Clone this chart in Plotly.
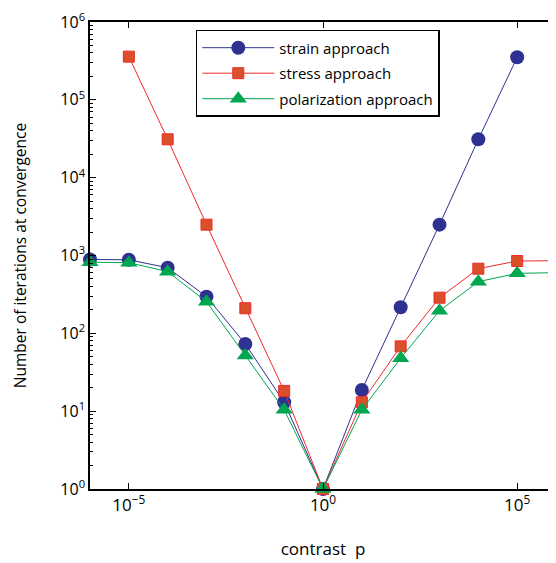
import plotly.graph_objects as go

contrast_exp = [-6, -5, -4, -3, -2, -1, 0, 1, 2, 3, 4, 5, 6]
contrast = [10.0 ** e for e in contrast_exp]

strain = [890, 880, 697, 296, 73, 13, 1, 18.7, 216, 2490, 31100, 352000, None]
stress = [None, 359000, 31100, 2490, 210, 18.2, 1, 13, 68, 287, 677, 850, 857]
polar = [820, 809, 620, 255, 52, 10.4, 1, 10.4, 47.8, 195, 461, 590, 601]

series_names = ["strain approach", "stress approach", "polarization approach"]

x_tickvals = [1e-5, 1, 1e5]
x_ticktext = ["10<sup>−5</sup>", "10<sup>0</sup>", "10<sup>5</sup>"]
y_tickvals = [1, 10, 100, 1e3, 1e4, 1e5, 1e6]
y_ticktext = ["10<sup>%d</sup>" % i for i in range(7)]
y_minor = [m * 10 ** d for d in range(6) for m in range(2, 10)]

FONT = "Open Sans"

fig = go.Figure()
fig.add_trace(go.Scatter(
    x=contrast, y=strain, name=series_names[0], mode="lines+markers",
    legendgroup="a",
    line=dict(color="#2e3192", width=1),
    marker=dict(symbol="circle", size=14, color="#2e3192",
                line=dict(color="#2e3192", width=0)),
    cliponaxis=False, connectgaps=False))
fig.add_trace(go.Scatter(
    x=contrast, y=stress, name=series_names[1], mode="lines+markers",
    legendgroup="b",
    line=dict(color="#ee2a2a", width=1),
    marker=dict(symbol="square", size=11, color="#d9502b",
                line=dict(color="#ee2a2a", width=1)),
    cliponaxis=False, connectgaps=False))
fig.add_trace(go.Scatter(
    x=contrast, y=polar, name=series_names[2], mode="lines+markers",
    legendgroup="c",
    line=dict(color="#00a650", width=1),
    marker=dict(symbol="triangle-up", size=15, color="#00a650",
                line=dict(color="#00a650", width=0)),
    cliponaxis=False, connectgaps=False))

axis_common = dict(
    showline=True, linecolor="black", linewidth=1.5, mirror="ticks",
    ticks="inside", ticklen=6, tickcolor="black", tickwidth=1,
    showgrid=False, zeroline=False, automargin=False,
)

fig.update_xaxes(
    type="log", range=[-6, 6], tickmode="array",
    tickvals=x_tickvals, ticktext=x_ticktext,
    tickfont=dict(family=FONT, size=17, color="black"),
    title=dict(text="contrast\u00a0\u00a0p", font=dict(family=FONT, size=17, color="black"), standoff=28),
    **axis_common)
fig.update_yaxes(
    type="log", range=[0, 6], tickmode="array",
    tickvals=y_tickvals, ticktext=y_ticktext,
    tickfont=dict(family=FONT, size=16, color="black"),
    minor=dict(tickvals=y_minor, ticks="inside", ticklen=3, tickcolor="black", showgrid=False),
    title=dict(text="Number of iterations at convergence", font=dict(family=FONT, size=15.5, color="black"), standoff=30),
    **axis_common)

# the page body adds an 8px margin, so the figure is sized to fit the window
fig.update_layout(
    width=548, height=555,
    margin=dict(l=82, r=0, t=14, b=74),
    paper_bgcolor="white", plot_bgcolor="white",
    font=dict(family=FONT, size=14, color="black"),
    showlegend=True,
    legend=dict(x=0.227, y=0.983, xanchor="left", yanchor="top",
                bgcolor="white", bordercolor="black", borderwidth=1.5,
                font=dict(family=FONT, size=15, color="black"),
                tracegroupgap=3, itemsizing="trace", itemwidth=72),
)

fig.write_html("out.html")
